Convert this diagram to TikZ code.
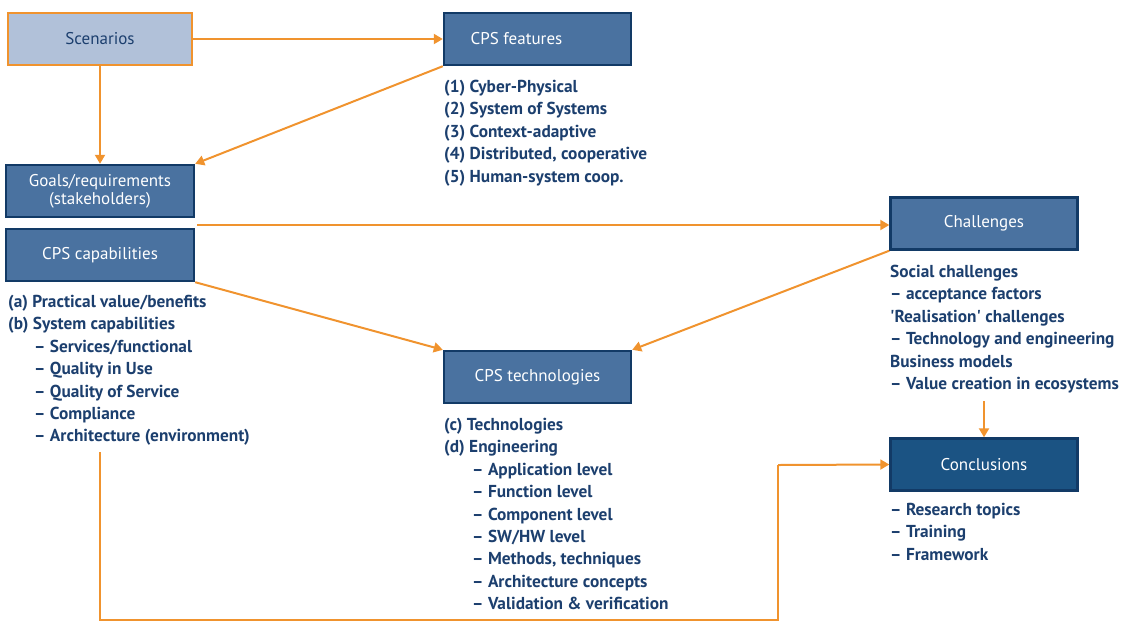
\documentclass[tikz,border=0pt]{standalone}
\usepackage{fontspec}
\setmainfont{PT Sans}
\newfontfamily\ptraw{PT Sans}
\usetikzlibrary{arrows.meta}
\definecolor{txtblue}{HTML}{1C3F6E}
\definecolor{boxfill}{HTML}{4A72A0}
\definecolor{boxdark}{HTML}{1B5383}
\definecolor{boxline}{HTML}{123A66}
\definecolor{scenfill}{HTML}{B1C1D9}
\definecolor{arrorange}{HTML}{F0932E}
\tikzset{
  box/.style={draw=boxline, line width=2.4pt, fill=boxfill, text=white, minimum width=#1, minimum height=52pt, inner sep=0pt, font=\fontsize{17}{19}\selectfont, align=center},
  box/.default=187pt,
  list/.style={anchor=north west, inner sep=0pt, text=txtblue, align=left, font=\bfseries\fontsize{17.3}{22.4}\selectfont},
  conn/.style={draw=arrorange, line width=2pt, -{Triangle[length=9pt,width=10pt]}},
  plain/.style={draw=arrorange, line width=2pt}
}
\begin{document}
\begin{tikzpicture}[x=1pt,y=-1pt]
\useasboundingbox (0,0) rectangle (1123,622);
% boxes
\node[box=184pt, fill=scenfill, draw=arrorange, text=txtblue] (scen) at (100,39) {Scenarios};
\node[box] (feat) at (537.5,39) {\hspace*{-42pt}CPS features};
\node[box=188pt] (goals) at (100,191) {Goals/requirements\\[-1pt](stakeholders)};
\node[box=188pt] (capab) at (100,255) {CPS capabilities};
\node[box] (chal) at (984,223.5) {Challenges};
\node[box] (tech) at (537.5,377) {CPS technologies};
\node[box, fill=boxdark] (concl) at (984,464.5) {Conclusions};
% lists
\node[list] (featlist) at (444,80) {(1) Cyber-Physical\\(2) System of Systems\\(3) Context-adaptive\\(4) Distributed, cooperative\\(5) Human-system coop.};
\node[list] (caplist) at (8,295) {(a) Practical value/benefits\\(b) System capabilities\\\hspace{26pt}– Services/functional\\\hspace{26pt}– Quality in Use\\\hspace{26pt}– Quality of Service\\\hspace{26pt}– Compliance\\\hspace{26pt}– Architecture (environment)};
\node[list] (techlist) at (444,418) {(c) Technologies\\(d) Engineering\\\hspace{28pt}– Application level\\\hspace{28pt}– Function level\\\hspace{28pt}– Component level\\\hspace{28pt}– SW/HW level\\\hspace{28pt}– Methods, techniques\\\hspace{28pt}– Architecture concepts\\\hspace{28pt}– Validation \& verification};
\node[list] (challist) at (890,265) {Social challenges\\– acceptance factors\\{\ptraw\bfseries 'Realisation' challenges}\\– Technology and engineering\\Business models\\– Value creation in ecosystems};
\node[list] (concllist) at (890,503) {– Research topics\\– Training\\– Framework};
% connectors
\coordinate (bl) at (100,620);
\coordinate (br) at (778,620);
\coordinate (tr) at (778,465);
\draw[conn] (scen.east) -- (feat.west);
\draw[conn] (scen.south) -- (goals.north);
\draw[conn] (feat.south west) -- (goals.north east);
\draw[conn] (goals.south east |- 0,225) ++(2,0) -- (chal.west |- 0,225);
\draw[conn] (capab.south east) -- (tech.north west);
\draw[conn] (chal.south west) -- (tech.north east);
\draw[conn] (984,401) -- (concl.north);
\draw[plain] (100,452) -- (bl) -- (br) -- (tr);
\draw[conn] (tr) -- (concl.west);
\end{tikzpicture}
\end{document}
